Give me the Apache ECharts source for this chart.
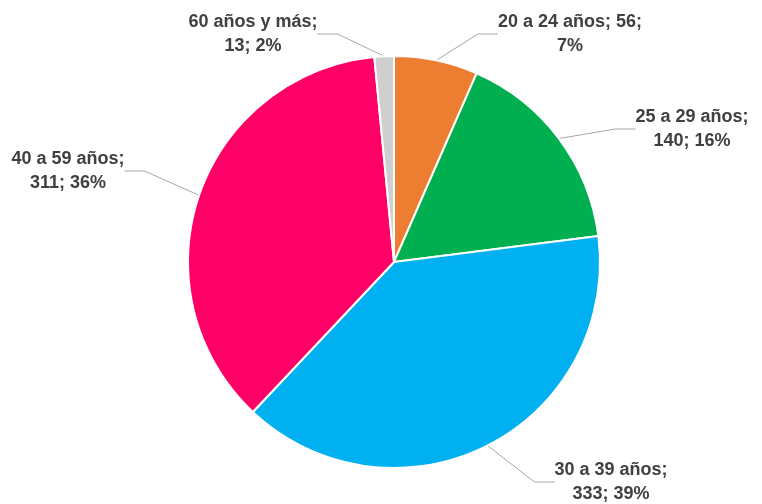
<!DOCTYPE html>
<html>
<head>
<meta charset="utf-8">
<script src="https://cdn.jsdelivr.net/npm/echarts@6/dist/echarts.min.js"></script>
<style>
  html, body { margin: 0; padding: 0; background: #fff; }
  #chart { width: 762px; height: 504px; }
</style>
</head>
<body>
<div id="chart"></div>
<script>
  // datos
  var categorias = ['20 a 24 años', '25 a 29 años', '30 a 39 años', '40 a 59 años', '60 años y más'];
  var valores = [56, 140, 333, 311, 13];
  var porcentajes = [7, 16, 39, 36, 2];
  var colores = ['#ED7D31', '#00B050', '#00B0F0', '#FF0066', '#D0CECE'];

  // texto de cada etiqueta (salto de línea como en el original)
  var textos = [
    '20 a 24 años; 56;\n7%',
    '25 a 29 años;\n140; 16%',
    '30 a 39 años;\n333; 39%',
    '40 a 59 años;\n311; 36%',
    '60 años y más;\n13; 2%'
  ];
  // posición de las etiquetas (centro del texto)
  var posEtiquetas = [[570, 34], [692, 129], [611, 482], [68, 171], [253, 34]];

  var datos = categorias.map(function (c, i) {
    return { name: c, value: valores[i], itemStyle: { color: colores[i] } };
  });

  var myChart = echarts.init(document.getElementById('chart'));
  myChart.setOption({
    animation: false,
    series: [{
      type: 'pie',
      center: [394, 262],
      radius: 206,
      startAngle: 90,
      clockwise: true,
      data: datos,
      itemStyle: { borderColor: '#fff', borderWidth: 2 },
      label: {
        show: true,
        formatter: function (p) { return textos[p.dataIndex]; },
        fontFamily: '"Liberation Sans Narrow", "Arial Narrow", sans-serif',
        fontWeight: 'bold',
        fontSize: 18,
        lineHeight: 24,
        color: '#404040',
        align: 'center'
      },
      labelLine: {
        show: true,
        length: 20,
        length2: 20,
        lineStyle: { color: '#A6A6A6', width: 1 }
      },
      labelLayout: function (p) {
        var pos = posEtiquetas[p.dataIndex];
        return { x: pos[0], y: pos[1], align: 'center', verticalAlign: 'middle' };
      }
    }]
  });
</script>
</body>
</html>
